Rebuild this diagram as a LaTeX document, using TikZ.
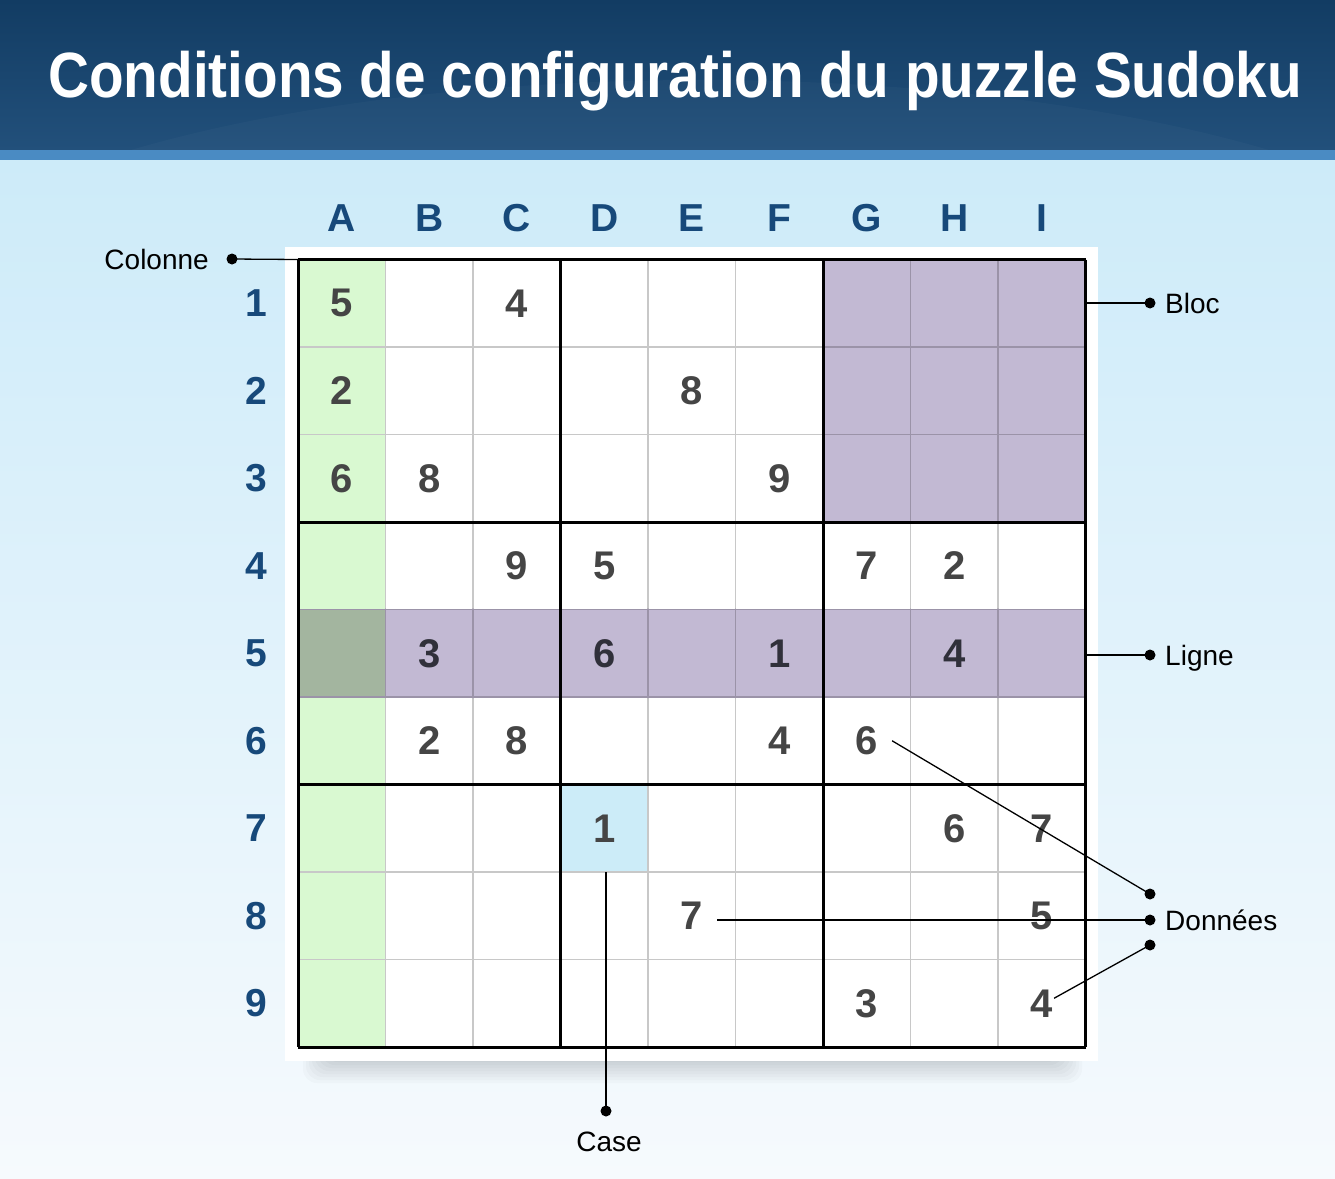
\documentclass[tikz,border=0pt]{standalone}
\usepackage{fontspec}
\usepackage{graphicx}
\setmainfont{Liberation Sans}
\usetikzlibrary{calc}
\definecolor{hdrtop}{HTML}{123C63}
\definecolor{hdrbot}{HTML}{22507B}
\definecolor{stripe}{HTML}{4A8BC3}
\definecolor{bgtop}{HTML}{CDEBF9}
\definecolor{bgbot}{HTML}{F6FAFD}
\definecolor{colgreen}{HTML}{D9F9D1}
\definecolor{blocpurple}{HTML}{C2B9D3}
\definecolor{mixcell}{HTML}{A3B59F}
\definecolor{caseblue}{HTML}{CCECF8}
\definecolor{thingray}{HTML}{C8C8C8}
\definecolor{thinpurple}{HTML}{9B93A8}
\definecolor{digitgray}{HTML}{454545}
\definecolor{digitdark}{HTML}{30303A}
\definecolor{labelblue}{HTML}{17497A}
\tikzset{
  digit/.style={font=\fontsize{40}{48}\selectfont\bfseries, text=digitgray, inner xsep=14pt, inner ysep=0pt},
  digitrow/.style={digit, text=digitdark},
  axislabel/.style={font=\fontsize{39}{46}\selectfont\bfseries, text=labelblue, inner sep=0pt},
  callout/.style={font=\fontsize{28}{34}\selectfont, text=black, inner sep=0pt},
  leader/.style={draw=black, line width=1.3pt},
  dot/.style={fill=black, circle, minimum size=11pt, inner sep=0pt},
  thinline/.style={draw=thingray, line width=1.4pt},
  thickline/.style={draw=black, line width=3pt},
}
\begin{document}
\begin{tikzpicture}[x=1pt,y=-1pt]
\useasboundingbox (0,0) rectangle (1335,1178);
% background
\shade[top color=bgtop, bottom color=bgbot] (0,160) rectangle (1335,1178);
% header
\shade[top color=hdrtop, bottom color=hdrbot] (0,0) rectangle (1335,150);
\begin{scope}
  \clip (0,0) rectangle (1335,150);
  \fill[white, opacity=0.025] (700,330) ellipse [x radius=820, y radius=250];
\end{scope}
\fill[stripe] (0,150) rectangle (1335,160);
\node[text=white, anchor=base, inner sep=0pt] (title) at (675,97)
  {\scalebox{0.886}[1]{\fontsize{64}{70}\selectfont\bfseries Conditions de configuration du puzzle Sudoku}};
% shadow under panel
\foreach \i in {1,...,9}{
  \fill[black, opacity=0.018, rounded corners=14pt] (330-\i*3,1040) rectangle (1055+\i*3,1056+\i*3);
}
% white panel
\fill[white] (285,247) rectangle (1098,1061);
% fills
\fill[colgreen] (298,259.5) rectangle (385.5,1047);
\fill[blocpurple] (823,259.5) rectangle (1085.5,522);
\fill[blocpurple] (385.5,609.5) rectangle (1085.5,697);
\fill[mixcell] (298,609.5) rectangle (385.5,697);
\node[fill=caseblue, minimum width=87.5pt, minimum height=87.5pt, inner sep=0pt, anchor=north west] (caseD7) at (560.5,784.5) {};
% thin lines
\foreach \k in {1,2,4,5,7,8}{
  \draw[thinline] (298+\k*87.5,259.5) -- (298+\k*87.5,1047);
  \draw[thinline] (298,259.5+\k*87.5) -- (1085.5,259.5+\k*87.5);
}
% darker thin lines in purple areas
\begin{scope}
  \clip (823,259.5) rectangle (1085.5,522) (298,608.5) rectangle (1085.5,698);
  \foreach \k in {1,2,4,5,7,8}{
    \draw[draw=thinpurple, line width=1.4pt] (298+\k*87.5,259.5) -- (298+\k*87.5,1047);
    \draw[draw=thinpurple, line width=1.4pt] (298,259.5+\k*87.5) -- (1085.5,259.5+\k*87.5);
  }
\end{scope}
% thick lines
\foreach \k in {0,3,6,9}{
  \draw[thickline] (298+\k*87.5,259.5) -- (298+\k*87.5,1047);
  \draw[thickline] (298,259.5+\k*87.5) -- (1085.5,259.5+\k*87.5);
}
\node[minimum width=787.5pt, minimum height=787.5pt, inner sep=0pt, anchor=north west] (grid) at (298,259.5) {};
% axis labels
\foreach \l [count=\i] in {A,B,C,D,E,F,G,H,I}{
  \node[axislabel] (col\l) at (298+\i*87.5-43.75,218) {\l};
}
\foreach \i in {1,...,9}{
  \node[axislabel] (row\i) at (256,259.5+\i*87.5-43.75) {\i};
}
% digits
\foreach \c/\r/\v in {1/1/5,3/1/4,1/2/2,5/2/8,1/3/6,2/3/8,6/3/9,3/4/9,4/4/5,7/4/7,8/4/2,
  2/6/2,3/6/8,6/6/4,7/6/6,4/7/1,8/7/6,9/7/7,5/8/7,9/8/5,7/9/3,9/9/4}{
  \node[digit] (d\c-\r) at (298+\c*87.5-43.75,259.5+\r*87.5-43.75) {\v};
}
\foreach \c/\v in {2/3,4/6,6/1,8/4}{
  \node[digitrow] (d\c-5) at (298+\c*87.5-43.75,259.5+5*87.5-43.75) {\v};
}
% callouts
\node[dot] (dotCol) at (232,259) {};
\node[callout, anchor=base east] (lblCol) at (209,269) {Colonne};
\draw[leader] (dotCol.center) -- (grid.north west);

\node[dot] (dotBloc) at (1150,303) {};
\node[callout, anchor=base west] (lblBloc) at (1165,313) {Bloc};
\draw[leader] (grid.east |- dotBloc) -- (dotBloc.center);

\node[dot] (dotLigne) at (1150,655) {};
\node[callout, anchor=base west] (lblLigne) at (1165,665) {Ligne};
\draw[leader] (grid.east |- dotLigne) -- (dotLigne.center);

\node[dot] (dotDa) at (1150,894) {};
\node[dot] (dotDb) at (1150,920) {};
\node[dot] (dotDc) at (1150,945) {};
\node[callout, anchor=base west] (lblDon) at (1165,930) {Données};
\draw[leader] (d7-6.east) -- (dotDa.center);
\draw[leader] (d5-8.east |- dotDb) -- (dotDb.center);
\draw[leader] ([xshift=-13pt,yshift=5pt]d9-9.east) -- (dotDc.center);

\node[dot] (dotCase) at (606,1111) {};
\node[callout, anchor=base] (lblCase) at (609,1151) {Case};
\draw[leader] (caseD7.south -| dotCase) -- (dotCase.center);
\end{tikzpicture}
\end{document}
